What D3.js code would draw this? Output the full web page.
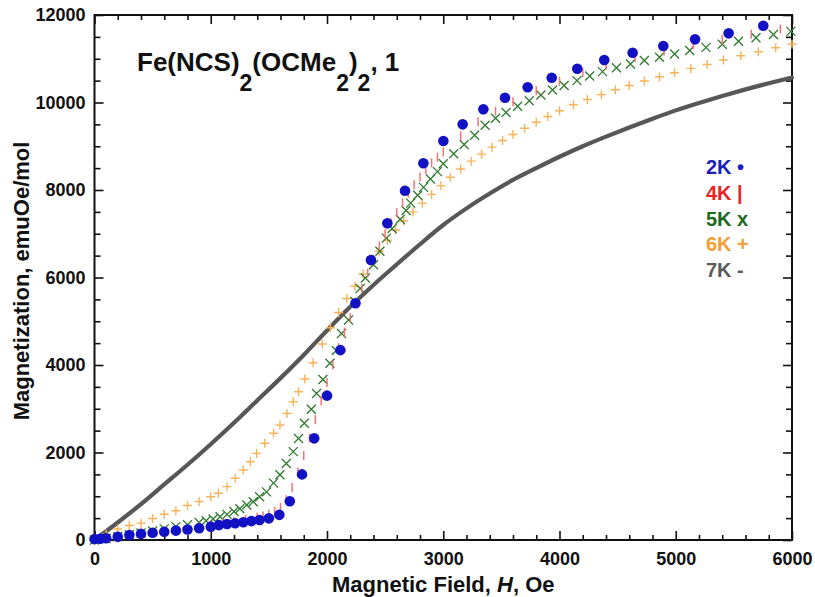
<!DOCTYPE html>
<html>
<head>
<meta charset="utf-8">
<script src="https://cdn.jsdelivr.net/npm/d3@7/dist/d3.min.js"></script>
<style>
  body { margin: 0; background: #fff; }
  svg { display: block; }
  text { font-family: "Liberation Sans", Arial, Helvetica, sans-serif; font-weight: bold; }
</style>
</head>
<body>
<svg id="chart" width="815" height="597"></svg>
<script>
// Tick labels
const xTicks = [0, 1000, 2000, 3000, 4000, 5000, 6000];
const yTicks = [0, 2000, 4000, 6000, 8000, 10000, 12000];

// 2 K: field (Oe) and magnetization (emuOe/mol)
const h2K = [0, 50, 100, 200, 300, 400, 500, 600, 700, 800, 900, 1000, 1070, 1140, 1210, 1280, 1350, 1420, 1500, 1590,
  1680, 1785, 1890, 2000, 2115, 2245, 2378, 2519, 2671, 2829, 3001, 3167, 3345, 3531, 3726, 3933, 4153, 4385, 4629,
  4893, 5166, 5455, 5753];
const m2K = [20, 30, 40, 75, 114, 140, 167, 190, 215, 240, 268, 305, 340, 365, 382, 405, 432, 457, 495, 575,
  885, 1500, 2324, 3300, 4340, 5410, 6400, 7238, 7984, 8610, 9120, 9501, 9844, 10110, 10347, 10567, 10773, 10971, 11138,
  11291, 11444, 11581, 11753];

// 4 K
const h4K = [0, 100, 200, 300, 400, 500, 600, 700, 800, 900, 1000, 1100, 1200, 1300, 1400, 1450, 1500, 1550, 1600, 1650,
  1700, 1750, 1800, 1850, 1900, 1950, 2000, 2050, 2100, 2150, 2200, 2250, 2300, 2350, 2400, 2450, 2500, 2550, 2600, 2650,
  2700, 2750, 2800, 2850, 2900, 2950, 3000, 3150, 3300, 3450, 3600, 3800, 4000, 4200, 4400, 4650, 4900, 5150, 5400, 5650, 5900];
const m4K = [25, 45, 85, 120, 150, 180, 205, 235, 265, 295, 335, 380, 425, 470, 520, 550, 590, 650, 750, 920,
  1200, 1550, 1930, 2330, 2750, 3180, 3600, 4000, 4400, 4750, 5080, 5420, 5750, 6100, 6420, 6720, 7000, 7250, 7480, 7710,
  7930, 8120, 8300, 8470, 8620, 8750, 8870, 9240, 9560, 9800, 10020, 10270, 10480, 10680, 10860, 11030, 11180, 11320, 11440, 11560, 11680];

// 5 K
const h5K = [0, 100, 200, 300, 400, 500, 600, 700, 800, 900, 960, 1020, 1080, 1140, 1200, 1250, 1310, 1365, 1420, 1480,
  1540, 1595, 1650, 1710, 1755, 1805, 1865, 1910, 1965, 2025, 2080, 2125, 2185, 2240, 2285, 2330, 2400, 2455, 2510, 2560,
  2630, 2680, 2720, 2780, 2830, 2890, 2950, 3000, 3090, 3180, 3270, 3360, 3450, 3540, 3640, 3740, 3840, 3940, 4040, 4150,
  4260, 4370, 4490, 4610, 4730, 4860, 4990, 5120, 5260, 5400, 5540, 5690, 5840, 5990];
const m5K = [0, 35, 75, 120, 160, 205, 255, 305, 350, 400, 440, 480, 530, 585, 650, 715, 800, 875, 990, 1100,
  1300, 1490, 1750, 2020, 2320, 2670, 2990, 3350, 3670, 4040, 4330, 4720, 5030, 5450, 5750, 5990, 6290, 6600, 6900, 7120,
  7330, 7530, 7700, 7880, 8060, 8250, 8420, 8600, 8830, 9040, 9250, 9480, 9640, 9770, 9915, 10040, 10170, 10285, 10390, 10500,
  10605, 10705, 10795, 10880, 10960, 11035, 11110, 11190, 11260, 11330, 11400, 11480, 11555, 11625];

// 6 K
const h6K = [0, 100, 200, 300, 400, 500, 600, 700, 800, 900, 1000, 1065, 1140, 1210, 1280, 1340, 1395, 1465, 1540, 1595,
  1655, 1710, 1755, 1810, 1880, 1960, 2030, 2100, 2170, 2240, 2310, 2380, 2450, 2520, 2590, 2660, 2740, 2820, 2900, 2980,
  3060, 3150, 3240, 3330, 3420, 3510, 3600, 3700, 3800, 3900, 4000, 4120, 4240, 4360, 4480, 4600, 4730, 4860, 4990, 5130,
  5270, 5410, 5560, 5710, 5860, 6000];
const m6K = [0, 130, 250, 330, 385, 490, 590, 670, 790, 880, 990, 1070, 1220, 1410, 1600, 1790, 1980, 2210, 2440, 2630,
  2890, 3160, 3390, 3680, 4050, 4480, 4850, 5200, 5520, 5800, 6080, 6330, 6600, 6850, 7080, 7290, 7500, 7700, 7900, 8100,
  8290, 8480, 8660, 8820, 8980, 9130, 9270, 9410, 9550, 9680, 9810, 9950, 10070, 10180, 10290, 10390, 10490, 10590, 10680, 10780,
  10870, 10970, 11070, 11160, 11250, 11330];

// 7 K (continuous curve)
const h7K = [0, 200, 400, 600, 800, 1000, 1200, 1400, 1600, 1800, 2000, 2200, 2400, 2600, 2800, 3000, 3200, 3400, 3600, 3800,
  4000, 4200, 4400, 4600, 4800, 5000, 5200, 5400, 5600, 5800, 6000];
const m7K = [0, 400, 820, 1270, 1720, 2190, 2680, 3190, 3700, 4230, 4790, 5330, 5830, 6300, 6760, 7200, 7580, 7920, 8230, 8500,
  8760, 9000, 9220, 9430, 9630, 9820, 9990, 10150, 10300, 10440, 10570];

const legendLabels = ["2K \u2022", "4K |", "5K x", "6K +", "7K -"];
const legendColors = ["#1c1cbf", "#ee2222", "#1d6a1d", "#f5a033", "#5a5a5a"];

const svg = d3.select("#chart");
const padL = 94.5, padR = 792, padT = 15, padB = 540;

const x = d3.scaleLinear().domain([0, 6000]).range([padL, padR]);
const y = d3.scaleLinear().domain([0, 12000]).range([padB, padT]);

const xMinor = d3.range(0, 6001, 200).filter(v => v % 1000 !== 0);
const yMinor = d3.range(0, 12001, 500).filter(v => v % 2000 !== 0);

function styleAxis(g) {
  g.select(".domain").remove();
  g.selectAll(".tick line").attr("stroke", "#111").attr("stroke-width", 1.6);
  g.selectAll(".tick text").attr("font-size", 18).attr("fill", "#111")
    .style("font-family", '"Liberation Sans", Arial, sans-serif').style("font-weight", "bold");
}

// bottom axis: major with labels, minor without
svg.append("g").attr("transform", `translate(0,${padB})`)
  .call(d3.axisBottom(x).tickValues(xTicks).tickFormat(d3.format("d")).tickSizeInner(-9).tickSizeOuter(0).tickPadding(12))
  .call(styleAxis);
svg.append("g").attr("transform", `translate(0,${padB})`)
  .call(d3.axisBottom(x).tickValues(xMinor).tickFormat("").tickSizeInner(-5).tickSizeOuter(0))
  .call(styleAxis);
// top axis
svg.append("g").attr("transform", `translate(0,${padT})`)
  .call(d3.axisTop(x).tickValues(xTicks).tickFormat("").tickSizeInner(-9).tickSizeOuter(0))
  .call(styleAxis);
svg.append("g").attr("transform", `translate(0,${padT})`)
  .call(d3.axisTop(x).tickValues(xMinor).tickFormat("").tickSizeInner(-5).tickSizeOuter(0))
  .call(styleAxis);
// left axis
svg.append("g").attr("transform", `translate(${padL},0)`)
  .call(d3.axisLeft(y).tickValues(yTicks).tickFormat(d3.format("d")).tickSizeInner(-9).tickSizeOuter(0).tickPadding(9))
  .call(styleAxis);
svg.append("g").attr("transform", `translate(${padL},0)`)
  .call(d3.axisLeft(y).tickValues(yMinor).tickFormat("").tickSizeInner(-6).tickSizeOuter(0))
  .call(styleAxis);
// right axis
svg.append("g").attr("transform", `translate(${padR},0)`)
  .call(d3.axisRight(y).tickValues(yTicks).tickFormat("").tickSizeInner(-9).tickSizeOuter(0))
  .call(styleAxis);
svg.append("g").attr("transform", `translate(${padR},0)`)
  .call(d3.axisRight(y).tickValues(yMinor).tickFormat("").tickSizeInner(-6).tickSizeOuter(0))
  .call(styleAxis);

// plot frame
svg.append("rect")
  .attr("x", padL).attr("y", padT)
  .attr("width", padR - padL).attr("height", padB - padT)
  .attr("fill", "none").attr("stroke", "#111").attr("stroke-width", 2);

const plot = svg.append("g");
const pts = (hs, ms) => hs.map((h, i) => [h, ms[i]]);

// 7 K curve
plot.append("path")
  .datum(pts(h7K, m7K))
  .attr("fill", "none").attr("stroke", "#575757").attr("stroke-width", 4.2)
  .attr("stroke-linecap", "round")
  .attr("d", d3.line().x(d => x(d[0])).y(d => y(d[1])).curve(d3.curveMonotoneX));

// 6 K plus markers
plot.append("g").selectAll("path")
  .data(pts(h6K, m6K)).join("path")
  .attr("transform", d => `translate(${x(d[0])},${y(d[1])})`)
  .attr("d", "M-4.5,0H4.5M0,-4.5V4.5")
  .attr("stroke", "#f7b35a").attr("stroke-width", 1.4).attr("fill", "none");

// 5 K cross markers
plot.append("g").selectAll("path")
  .data(pts(h5K, m5K)).join("path")
  .attr("transform", d => `translate(${x(d[0])},${y(d[1])})`)
  .attr("d", "M-4.5,-4.5L4.5,4.5M-4.5,4.5L4.5,-4.5")
  .attr("stroke", "#2f7a2f").attr("stroke-width", 1.3).attr("fill", "none");

// 4 K bar markers
plot.append("g").selectAll("path")
  .data(pts(h4K, m4K)).join("path")
  .attr("transform", d => `translate(${x(d[0])},${y(d[1])})`)
  .attr("d", "M0,-4.5V4.5")
  .attr("stroke", "#f07474").attr("stroke-width", 1.5).attr("fill", "none");

// 2 K filled circles
plot.append("g").selectAll("circle")
  .data(pts(h2K, m2K)).join("circle")
  .attr("cx", d => x(d[0])).attr("cy", d => y(d[1]))
  .attr("r", 5.3).attr("fill", "#1212c4");

// axis titles
const xt = svg.append("text")
  .attr("x", (padL + padR) / 2).attr("y", 592)
  .attr("text-anchor", "middle").attr("font-size", 22).attr("fill", "#111");
xt.append("tspan").text("Magnetic Field, ");
xt.append("tspan").attr("font-style", "italic").text("H");
xt.append("tspan").text(", Oe");

svg.append("text")
  .attr("transform", "translate(29,281) rotate(-90)")
  .attr("text-anchor", "middle").attr("font-size", 22).attr("fill", "#111")
  .text("Magnetization, emuOe/mol");

// compound name with subscripts
const title = svg.append("text").attr("x", 137).attr("y", 71).attr("font-size", 26).attr("fill", "#111");
const parts = [["Fe(NCS)", false], ["2", true], ["(OCMe", false], ["2", true], [")", false], ["2", true], [", 1", false]];
let sub = false;
parts.forEach(([t, isSub]) => {
  const ts = title.append("tspan").text(t);
  if (isSub) ts.attr("font-size", 23);
  if (isSub && !sub) { ts.attr("dy", 20); sub = true; }
  else if (!isSub && sub) { ts.attr("dy", -20); sub = false; }
});

// legend
svg.append("g").selectAll("text")
  .data(legendLabels).join("text")
  .attr("x", 706).attr("y", (d, i) => 174 + i * 25.8)
  .attr("font-size", 20)
  .attr("fill", (d, i) => legendColors[i])
  .text(d => d);
</script>
</body>
</html>
